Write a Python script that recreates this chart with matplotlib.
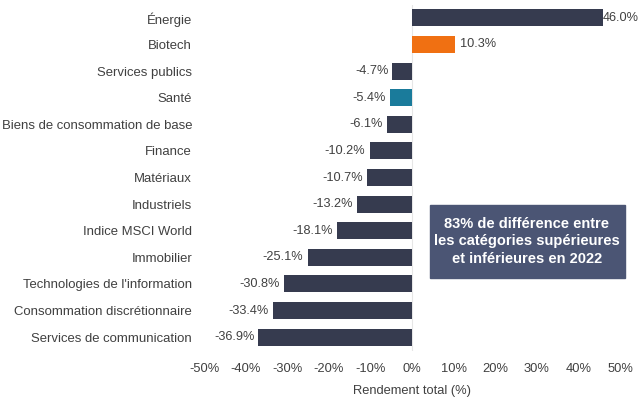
import matplotlib.pyplot as plt
import numpy as np

plt.rcParams['font.family'] = ['Liberation Sans', 'DejaVu Sans']

# Data
categories = ["Énergie", "Biotech", "Services publics", "Santé",
              "Biens de consommation de base", "Finance", "Matériaux",
              "Industriels", "Indice MSCI World", "Immobilier",
              "Technologies de l'information", "Consommation discrétionnaire",
              "Services de communication"]
values = [46.0, 10.3, -4.7, -5.4, -6.1, -10.2, -10.7, -13.2, -18.1, -25.1,
          -30.8, -33.4, -36.9]
ticks = [-50, -40, -30, -20, -10, 0, 10, 20, 30, 40, 50]

navy = '#363b4f'
colors = [navy] * len(categories)
colors[1] = '#f07012'
colors[3] = '#1a7b9b'
txtc = '#404040'

fig = plt.figure(figsize=(6.4, 3.97), dpi=100)
ax = fig.add_axes([204 / 640, 1 - 350.5 / 397, 416 / 640, 346 / 397])

y = np.arange(len(categories))
ax.barh(y, values, height=0.64, color=colors, zorder=2)
ax.axvline(0, color='#e6e6e6', lw=0.8, zorder=1)

for yi, v in zip(y, values):
    txt = f"{v:.1f}%"
    if v >= 40:
        ax.text(v - 0.2, yi, txt, va='center', ha='left', fontsize=9.2, color=txtc)
    elif v >= 0:
        ax.text(v + 1.2, yi, txt, va='center', ha='left', fontsize=9.2, color=txtc)
    else:
        ax.text(v - 1, yi, txt, va='center', ha='right', fontsize=9.2, color=txtc)

ax.set_xlim(-50, 50)
ax.set_ylim(len(categories) - 0.5, -0.5)
ax.set_yticks(y)
ax.set_yticklabels(categories, fontsize=9.45, color=txtc)
ax.set_xticks(ticks)
ax.set_xticklabels([f"{t}%" for t in ticks], fontsize=9.3, color=txtc)
ax.tick_params(length=0)
ax.tick_params(axis='x', pad=9)
ax.tick_params(axis='y', pad=8.6)
ax.set_xlabel("Rendement total (%)", fontsize=9.3, color=txtc, labelpad=7)
for s in ax.spines.values():
    s.set_visible(False)

# Annotation box
fig.patches.append(plt.Rectangle((430 / 640, 1 - 278 / 397), 195 / 640, 73 / 397,
                                 transform=fig.transFigure, color='#4b5574', zorder=3))
fig.text(527 / 640, 1 - 241.5 / 397,
         "83% de différence entre\nles catégories supérieures\net inférieures en 2022",
         ha='center', va='center', color='white', fontsize=10.5, fontweight='bold',
         linespacing=1.35, zorder=4)

fig.savefig('out.png', dpi=100)
